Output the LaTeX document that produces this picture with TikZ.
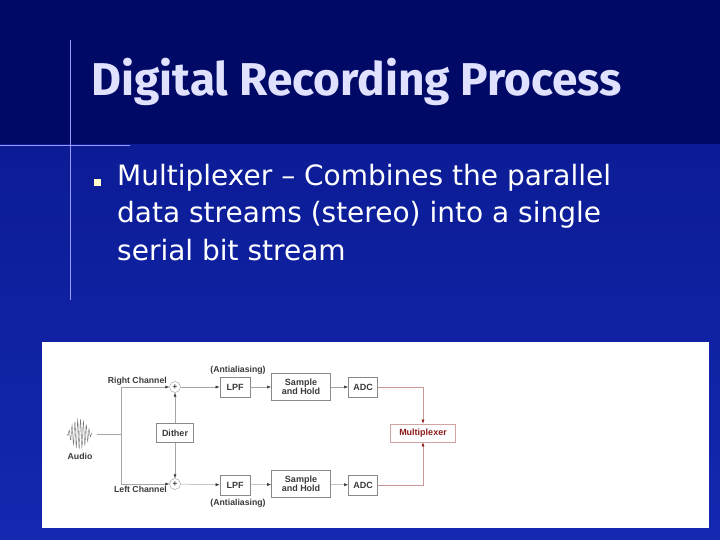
\documentclass[tikz,border=0pt]{standalone}
\usepackage{fontspec}
\setmainfont{Liberation Sans}
\newfontfamily\titlefont{Fira Sans}
\newfontfamily\bodyfont{DejaVu Sans}
\usetikzlibrary{arrows.meta}
\definecolor{navy}{HTML}{000A66}
\definecolor{bodyblue}{HTML}{0C1C96}
\definecolor{bodyblue2}{HTML}{1428B0}
\definecolor{dg}{HTML}{3A3A3A}
\definecolor{mux}{HTML}{8B1A1A}
\begin{document}
\begin{tikzpicture}[x=1pt,y=-1pt,
  blk/.style={draw=dg!60,line width=0.6pt,fill=white,font=\fontsize{9}{9.5}\selectfont\bfseries,text=dg,inner sep=1pt,align=center},
  sm/.style={font=\fontsize{8.7}{9}\selectfont\bfseries,text=dg,inner sep=0pt},
  wire/.style={draw=dg!45,line width=0.5pt},
  arr/.style={wire,-{Latex[length=4pt,width=3pt,color=dg]}},
  rarr/.style={draw=mux!45,line width=0.5pt,-{Latex[length=4pt,width=3pt,color=mux]}},
  sum/.style={circle,draw=dg!50,fill=white,inner sep=0pt,minimum size=11pt,font=\fontsize{8}{8}\selectfont\bfseries,text=dg}]
\useasboundingbox (0,0) rectangle (720,540);
\fill[navy] (0,0) rectangle (720,145);
\shade[top color=bodyblue,bottom color=bodyblue2] (0,145) rectangle (720,540);
\draw[blue!40!white,line width=0.6pt] (70,40) -- (70,300);
\draw[blue!40!white,line width=0.6pt] (0,145) -- (130,145);
\node[anchor=west,text=white!88!blue,font=\titlefont\bfseries\fontsize{46}{50}\selectfont] (title) at (88,82) {Digital Recording Process};
\fill[yellow!20!white] (94,179) rectangle (101,186);
\node[anchor=north west,text=white,font=\bodyfont\fontsize{28}{37.5}\selectfont,align=left,inner sep=0pt] (body) at (117,164) {Multiplexer – Combines the parallel\\data streams (stereo) into a single\\serial bit stream};
% panel
\fill[white] (42,342) rectangle (709,528);
% waveform
\draw[dg!70,line width=0.4pt] plot[domain=67:92,samples=60] (\x,{434+15*sin(deg((\x-67)*2.2))*sin(deg((\x-67)/25*3.14159))});
\node[sm] (audio) at (80,456) {Audio};
\coordinate (a0) at (97,434);
\coordinate (j) at (121,434);
\coordinate (jt) at (121,387);
\coordinate (jb) at (121,484);
\node[sum] (p1) at (175,387) {+};
\node[sum] (p2) at (175,484) {+};
\node[blk,minimum width=37pt,minimum height=19pt] (dither) at (175,433) {Dither};
\node[blk,minimum width=30pt,minimum height=20pt] (lpf1) at (235,387) {LPF};
\node[blk,minimum width=30pt,minimum height=20pt] (lpf2) at (235,485) {LPF};
\node[blk,minimum width=59pt,minimum height=27pt] (sh1) at (301,387) {Sample\\and Hold};
\node[blk,minimum width=59pt,minimum height=27pt] (sh2) at (301,484) {Sample\\and Hold};
\node[blk,minimum width=29pt,minimum height=20pt] (adc1) at (363,387) {ADC};
\node[blk,minimum width=29pt,minimum height=20pt] (adc2) at (363,485) {ADC};
\node[blk,draw=mux!40,text=mux,minimum width=65pt,minimum height=18pt] (mx) at (423,433) {Multiplexer};
\node[sm,anchor=south east] (rc) at (167,386) {Right Channel};
\node[sm,anchor=north east] (lc) at (167,486) {Left Channel};
\node[sm] (aa1) at (238,370) {(Antialiasing)};
\node[sm] (aa2) at (238,503) {(Antialiasing)};
\draw[wire] (a0) -- (j);
\draw[wire] (jt) -- (jb);
\draw[arr] (jt) -- (p1);
\draw[arr] (jb) -- (p2);
\draw[arr] (dither) -- (p1);
\draw[arr] (dither) -- (p2);
\draw[arr] (p1) -- (lpf1);
\draw[arr] (p2) -- (lpf2);
\draw[arr] (lpf1) -- (sh1);
\draw[arr] (lpf2) -- (sh2);
\draw[arr] (sh1) -- (adc1);
\draw[arr] (sh2) -- (adc2);
\draw[rarr] (adc1.east) -| (mx.north);
\draw[rarr] (adc2.east) -| (mx.south);
\end{tikzpicture}
\end{document}
